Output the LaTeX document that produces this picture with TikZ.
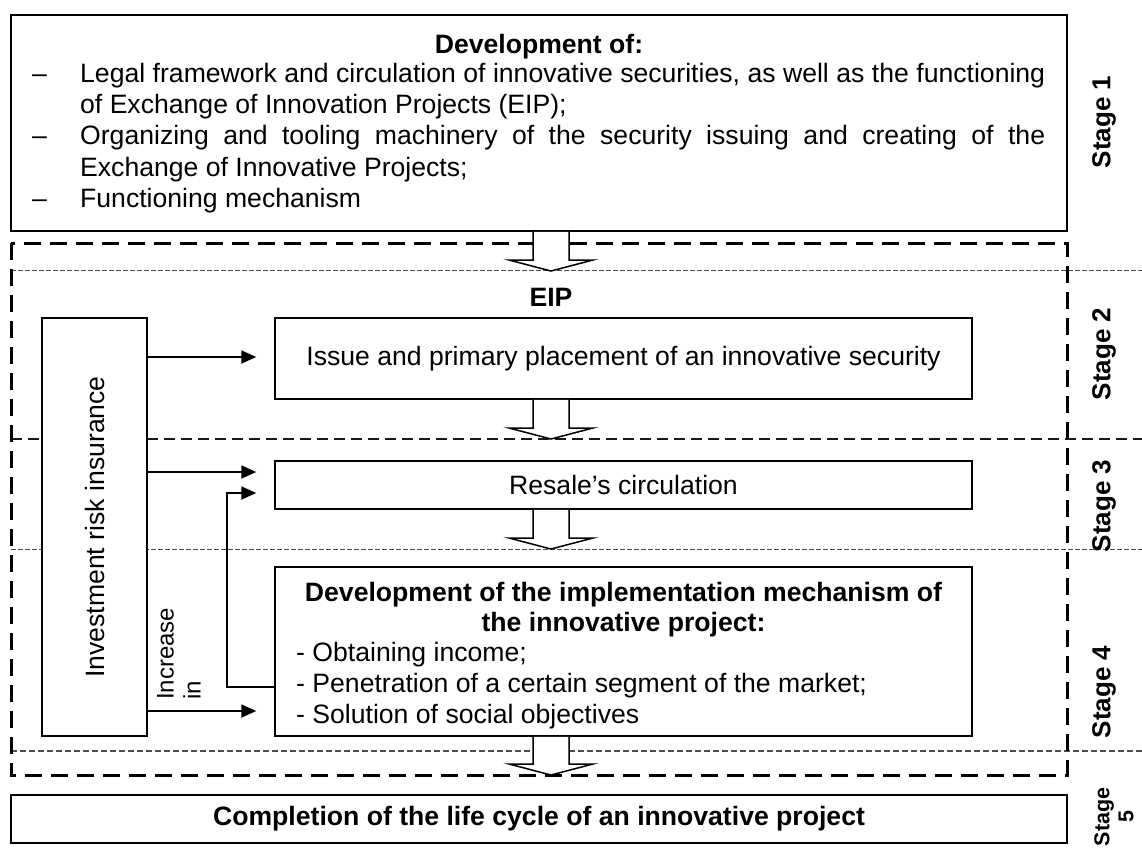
\documentclass[tikz,border=0pt]{standalone}
\usepackage{fontspec}
\setmainfont{Liberation Sans}
\usetikzlibrary{arrows.meta}
\tikzset{
  box/.style={draw, line width=1.5pt, fill=white, inner sep=0pt},
  txt/.style={inner sep=0pt, font=\fontsize{26.6}{30}\selectfont},
  btxt/.style={inner sep=0pt, font=\fontsize{26.6}{30}\selectfont\bfseries},
  arr/.style={line width=1.8pt, -{Triangle[length=15pt,width=13pt]}},
  stagelbl/.style={inner sep=0pt, font=\fontsize{26}{30}\selectfont\bfseries, rotate=90},
  fineA/.style={draw=black!70, line width=1pt, dash pattern=on 4.5pt off 2.5pt},
  fineB/.style={draw=black!70, line width=1.1pt, dash pattern=on 6pt off 3pt},
  midA/.style={draw=black!90, line width=1.3pt, dash pattern=on 11pt off 6pt},
  thickdash/.style={line width=3pt, dash pattern=on 17pt off 9pt},
  hollow/.style={line width=1.5pt, fill=white, line join=miter}
}
\newcommand\hollowdown[4]{%
  \draw[hollow] (#1-18,#2) -- (#1-18,#3) -- (#1-42,#3) -- (#1,#4) -- (#1+42,#3) -- (#1+18,#3) -- (#1+18,#2);}
\begin{document}
\begin{tikzpicture}[x=1pt,y=-1pt]
\useasboundingbox (0,0) rectangle (1142,847);
% stage separators
\draw[fineA] (11,270) -- (1142,270);
\draw[midA] (11,439) -- (1142,439);
\draw[fineA] (11,549) -- (1142,549);
\draw[fineB] (11,751) -- (1142,751);
% EIP frame
\draw[thickdash] (11,243) rectangle (1067,775);
% boxes
\node[box, minimum width=1056pt, minimum height=216pt] (top) at (539,123) {};
\node[box, minimum width=105pt, minimum height=418pt] (inv) at (94.5,527) {};
\node[box, txt, minimum width=697pt, minimum height=81pt] (issue) at (623.5,358.5) {Issue and primary placement of an innovative security};
\node[box, txt, minimum width=697pt, minimum height=48pt] (resale) at (623.5,485) {Resale’s circulation};
\node[box, minimum width=697pt, minimum height=169pt] (dev) at (623.5,651.5) {};
\node[box, btxt, minimum width=1056pt, minimum height=48pt] (compl) at (539,819) {Completion of the life cycle of an innovative project};
% hollow arrows
\hollowdown{551}{231.8}{260}{271}
\hollowdown{551}{399.8}{428}{439}
\hollowdown{551}{509.8}{538}{549}
\hollowdown{551}{736.8}{764}{775}
% top box text
\node[btxt] (toptitle) at (539,47) {Development of:};
\node[txt, anchor=north west, text width=1013pt, align=justify] (toplist) at (32,63) {\tolerance=10000\baselineskip=31.2pt
\hangindent=48pt\hangafter=1\makebox[48pt][l]{–}Legal framework and circulation of innovative securities, as well as the functioning\linebreak of Exchange of Innovation Projects (EIP);\par
\hangindent=48pt\hangafter=1\makebox[48pt][l]{–}Organizing and tooling machinery of the security issuing and creating of the\linebreak Exchange of Innovative Projects;\par
\hangindent=48pt\hangafter=1\makebox[48pt][l]{–}Functioning mechanism\par};
% EIP label
\node[btxt] (eip) at (551,297) {EIP};
% investment
\node[txt, rotate=90] (invlbl) at (inv.center) {Investment risk insurance};
\node[inner sep=0pt, font=\fontsize{24}{27}\selectfont, rotate=90, align=left, anchor=north west] (incr) at (157,700) {Increase\\in};
% dev text
\node[btxt, align=center, anchor=north] (devtitle) at (623.5,582) {Development of the implementation mechanism of\\the innovative project:};
\node[txt, align=left, anchor=north west, font=\fontsize{26.6}{31}\selectfont] (devlist) at (296,642) {- Obtaining income;\\- Penetration of a certain segment of the market;\\- Solution of social objectives};
% arrows
\draw[arr, shorten >=18pt] (inv.east |- 0,357) -- (issue.west |- 0,357);
\draw[arr, shorten >=18pt] (inv.east |- 0,472) -- (resale.west |- 0,472);
\draw[arr, shorten >=18pt] (dev.west |- 0,687) -- (227,687) -- (227,493) -- (resale.west |- 0,493);
\draw[arr, shorten >=18pt] (inv.east |- 0,711) -- (dev.west |- 0,711);
% stage labels
\node[stagelbl] (s1) at (1104,122) {Stage 1};
\node[stagelbl] (s2) at (1104,354) {Stage 2};
\node[stagelbl] (s3) at (1104,506) {Stage 3};
\node[stagelbl] (s4) at (1104,692) {Stage 4};
\node[stagelbl, align=center, font=\fontsize{21.5}{24}\selectfont\bfseries] (s5) at (1114,817) {Stage\\5};
\end{tikzpicture}
\end{document}
